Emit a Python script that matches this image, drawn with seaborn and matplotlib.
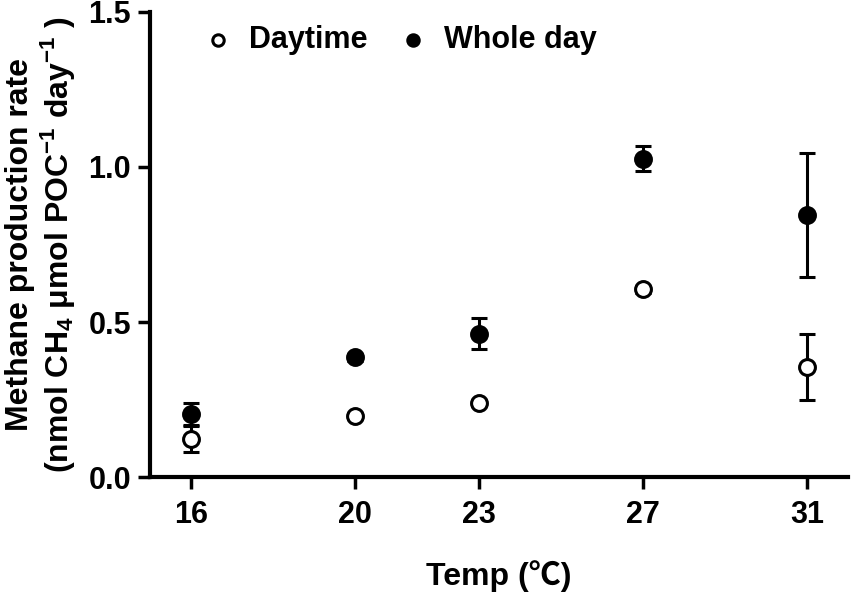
import numpy as np
import pandas as pd
import matplotlib
matplotlib.use("Agg")
import matplotlib.pyplot as plt
import seaborn as sns

# values
temps = [16, 20, 23, 27, 31]
daytime = [0.122, 0.196, 0.240, 0.605, 0.354]
daytime_err = [0.042, 0.010, 0.010, 0.010, 0.106]
wholeday = [0.203, 0.386, 0.463, 1.027, 0.846]
wholeday_err = [0.035, 0.010, 0.050, 0.040, 0.200]

sns.set_style("ticks")
plt.rcParams['font.family'] = ['Liberation Sans', 'DejaVu Sans']
plt.rcParams['font.weight'] = 'bold'
plt.rcParams['mathtext.fontset'] = 'custom'
plt.rcParams['mathtext.bf'] = 'Liberation Sans:bold'
plt.rcParams['mathtext.rm'] = 'Liberation Sans:bold'
for key in ['text.color', 'axes.labelcolor', 'xtick.color', 'ytick.color', 'axes.edgecolor']:
    plt.rcParams[key] = 'black'

df = pd.DataFrame({'Temp': temps, 'Daytime': daytime, 'Whole day': wholeday})

fig, ax = plt.subplots(figsize=(8.51, 5.92), dpi=100)
fig.subplots_adjust(left=0.176, right=0.997, bottom=0.194, top=0.98)

# error bars first, markers on top
ax.errorbar(temps, daytime, yerr=daytime_err, fmt='none', ecolor='black',
            elinewidth=2.2, capsize=5.5, capthick=2.2, zorder=2)
ax.errorbar(temps, wholeday, yerr=wholeday_err, fmt='none', ecolor='black',
            elinewidth=2.2, capsize=5.5, capthick=2.2, zorder=2)

sns.scatterplot(data=df, x='Temp', y='Daytime', ax=ax, s=130, marker='o',
                facecolor='white', edgecolor='black', linewidth=2.2,
                label='Daytime', zorder=3)
sns.scatterplot(data=df, x='Temp', y='Whole day', ax=ax, s=130, marker='o',
                color='black', edgecolor='black', linewidth=2.2,
                label='Whole day', zorder=3)

ax.set_xlim(15, 32)
ax.set_ylim(0, 1.5)
ax.set_xticks(temps)
ax.set_yticks([0, 0.5, 1.0, 1.5])
ax.set_yticklabels(['0.0', '0.5', '1.0', '1.5'])
ax.tick_params(labelsize=22, width=2.5, length=8.5, pad=5, direction='out', color='black')
ax.tick_params(axis='x', pad=8)
for lab in ax.get_xticklabels() + ax.get_yticklabels():
    lab.set_fontweight('bold')

sns.despine(ax=ax)
for side in ['left', 'bottom']:
    ax.spines[side].set_linewidth(3)
    ax.spines[side].set_color('black')

ax.set_xlabel('Temp (℃)', fontsize=23, fontweight='bold',
              family=['Liberation Sans', 'Noto Sans CJK SC'], labelpad=22)
ax.set_ylabel('Methane production rate\n'
              r'(nmol CH$_\mathbf{4}$ μmol POC$^\mathbf{-1}$ day$^\mathbf{-1}$ )',
              fontsize=23, fontweight='bold', linespacing=1.1)
ax.yaxis.set_label_coords(-0.104, 0.5)

leg = ax.legend(loc='upper left', bbox_to_anchor=(0.076, 0.972), ncol=2, frameon=False,
                fontsize=22, markerscale=0.72, handlelength=1.0, handletextpad=0.5,
                columnspacing=1.0, borderaxespad=0, borderpad=0)
for t in leg.get_texts():
    t.set_fontweight('bold')

plt.savefig('out.png', dpi=100)
